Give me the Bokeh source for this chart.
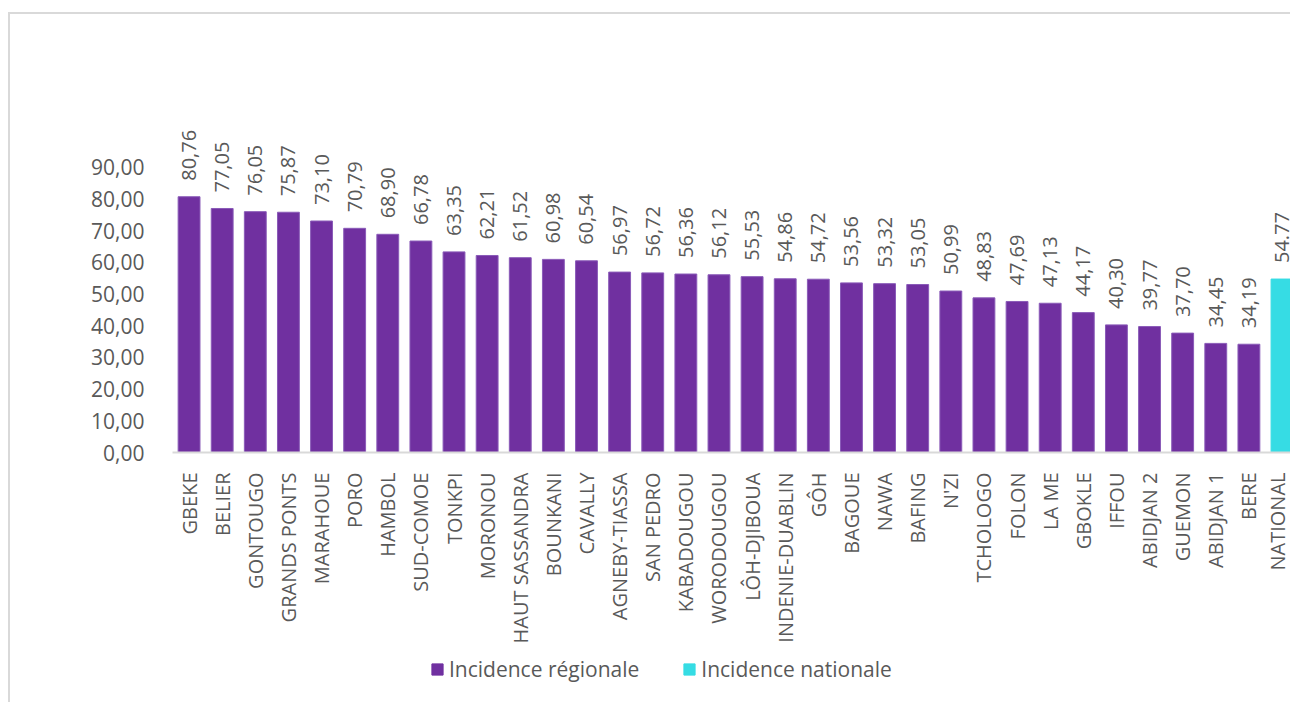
import math
from bokeh.plotting import figure
from bokeh.layouts import column
from bokeh.models import (ColumnDataSource, LabelSet, Range1d, FixedTicker, Legend, LegendItem)
from bokeh.core.properties import value
from bokeh.embed import file_html
from bokeh.resources import INLINE

regions = ["GBEKE", "BELIER", "GONTOUGO", "GRANDS PONTS", "MARAHOUE", "PORO", "HAMBOL",
           "SUD-COMOE", "TONKPI", "MORONOU", "HAUT SASSANDRA", "BOUNKANI", "CAVALLY",
           "AGNEBY-TIASSA", "SAN PEDRO", "KABADOUGOU", "WORODOUGOU", "LÔH-DJIBOUA",
           "INDENIE-DUABLIN", "GÔH", "BAGOUE", "NAWA", "BAFING", "N'ZI", "TCHOLOGO",
           "FOLON", "LA ME", "GBOKLE", "IFFOU", "ABIDJAN 2", "GUEMON", "ABIDJAN 1", "BERE"]
regional_values = [80.76, 77.05, 76.05, 75.87, 73.10, 70.79, 68.90, 66.78, 63.35, 62.21,
                   61.52, 60.98, 60.54, 56.97, 56.72, 56.36, 56.12, 55.53, 54.86, 54.72,
                   53.56, 53.32, 53.05, 50.99, 48.83, 47.69, 47.13, 44.17, 40.30, 39.77,
                   37.70, 34.45, 34.19]
national_label = "NATIONAL"
national_value = 54.77
y_ticks = [0, 10, 20, 30, 40, 50, 60, 70, 80, 90]
legend_labels = ["Incidence régionale", "Incidence nationale"]

PURPLE = "#7030A0"
CYAN = "#36DCE4"
GREY = "#595959"
FONT = "Open Sans"
FS = "20px"

all_names = regions + [national_label]
n = len(all_names)

reg_src = ColumnDataSource(dict(
    x=list(range(len(regions))),
    top=regional_values,
    lbl=[f"{v:.2f}".replace(".", ",") for v in regional_values],
))
nat_src = ColumnDataSource(dict(
    x=[len(regions)],
    top=[national_value],
    lbl=[f"{national_value:.2f}"],
))

p = figure(width=1280, height=640, output_backend="svg", toolbar_location=None,
           x_range=Range1d(-0.5, 33.256), y_range=Range1d(0, 130.1),
           min_border_left=162, min_border_right=0, min_border_top=26, min_border_bottom=202)
p.outline_line_color = None
p.xgrid.grid_line_color = None
p.ygrid.grid_line_color = None

r1 = p.vbar(x="x", top="top", width=0.66, source=reg_src, fill_color=PURPLE,
            line_color="#8A5BB8", line_width=1)
r2 = p.vbar(x="x", top="top", width=0.66, source=nat_src, fill_color=CYAN,
            line_color=CYAN, line_width=1)

for src in (reg_src, nat_src):
    p.add_layout(LabelSet(x="x", y="top", text="lbl", source=src, angle=math.pi / 2,
                          text_align="left", text_baseline="middle", y_offset=16,
                          text_font=value(FONT), text_font_size=value(FS),
                          text_color=GREY))

# y axis
p.yaxis.ticker = FixedTicker(ticks=y_ticks)
p.yaxis.major_label_overrides = {t: f"{t:.2f}".replace(".", ",") for t in y_ticks}
p.yaxis.axis_line_color = None
p.yaxis.major_tick_line_color = None
p.yaxis.minor_tick_line_color = None
p.yaxis.major_label_standoff = 22
p.yaxis.major_label_text_font = FONT
p.yaxis.major_label_text_font_size = "21px"
p.yaxis.major_label_text_color = GREY

# x axis
p.xaxis.ticker = FixedTicker(ticks=list(range(n)))
p.xaxis.major_label_overrides = {i: name for i, name in enumerate(all_names)}
p.xaxis.major_label_orientation = math.pi / 2
p.xaxis.axis_line_color = "#D9D9D9"
p.xaxis.axis_line_width = 2
p.xaxis.major_tick_line_color = None
p.xaxis.minor_tick_line_color = None
p.xaxis.major_label_standoff = 14
p.xaxis.major_label_text_font = FONT
p.xaxis.major_label_text_font_size = FS
p.xaxis.major_label_text_color = GREY

# legend strip (its frame is aligned with the chart's frame by the column layout)
lf = figure(width=1280, height=48, output_backend="svg", toolbar_location=None,
            x_range=Range1d(-100, -99), y_range=Range1d(0, 1),
            min_border=0, min_border_left=0, min_border_right=0,
            min_border_top=0, min_border_bottom=0)
lf.axis.visible = False
lf.grid.visible = False
lf.outline_line_color = None
l1 = lf.vbar(x="x", top="top", width=0.66, source=reg_src,
             fill_color=PURPLE, line_color=PURPLE)
l2 = lf.vbar(x="x", top="top", width=0.66, source=nat_src,
             fill_color=CYAN, line_color=CYAN)
legend = Legend(items=[LegendItem(label=legend_labels[0], renderers=[l1]),
                       LegendItem(label=legend_labels[1], renderers=[l2])],
                location=(258, 19), orientation="horizontal",
                glyph_width=14, glyph_height=14, label_standoff=5, spacing=43,
                padding=0, margin=0, border_line_color=None, background_fill_alpha=0,
                label_text_font=FONT, label_text_font_size="21px", label_text_color=GREY)
lf.add_layout(legend, "center")

layout = column(p, lf, spacing=0)
layout.styles = {"margin-left": "8px", "margin-top": "12px",
                 "border-left": "2px solid #D9D9D9", "border-top": "2px solid #D9D9D9"}

open("out.html", "w").write(file_html(layout, INLINE))
